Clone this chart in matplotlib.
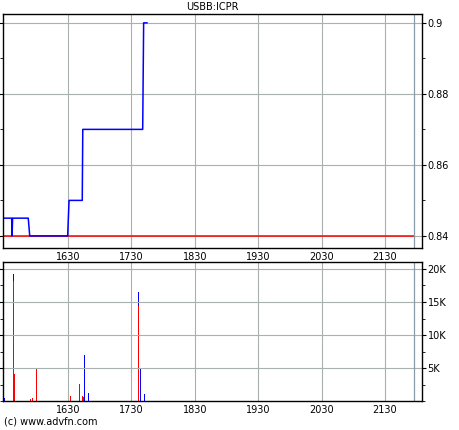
import matplotlib.pyplot as plt
from matplotlib.ticker import FixedLocator, MultipleLocator, FuncFormatter

# Intraday price / volume for USBB:ICPR (x = minutes of the day)
price_t = [928.5, 936.7, 937.1, 937.6, 952.4, 953.8, 989.7, 991.0, 1003.5, 1004.0, 1060.7, 1061.6, 1064.7]
price_v = [0.845, 0.845, 0.840, 0.845, 0.845, 0.840, 0.840, 0.850, 0.850, 0.870, 0.870, 0.900, 0.900]
prev_close = 0.84
now_t = 1317

vol_t = [929.5, 938.3, 939.2, 954.7, 956.0, 960.0, 992.2, 1000.7, 1003.5, 1004.5, 1005.4, 1009.2, 1056.5, 1058.4, 1062.2]
vol_red = [0, 18200, 4100, 300, 400, 4950, 750, 2570, 750, 600, 0, 0, 14400, 0, 0]
vol_blue = [400, 1050, 0, 0, 0, 0, 0, 0, 0, 0, 6970, 1260, 2100, 4950, 1060]

tick_pos = [990, 1050, 1110, 1170, 1230, 1290]
tick_lab = ['1630', '1730', '1830', '1930', '2030', '2130']
xmin, xmax = 928.5, 1325

fig = plt.figure(figsize=(4.6, 4.3), dpi=100)
ax1 = fig.add_axes([0.0065, 0.4233, 0.9109, 0.5442])
ax2 = fig.add_axes([0.0065, 0.0674, 0.9109, 0.3233])

grid_col = '#a8b0b0'

# price panel
ax1.plot([xmin, now_t], [prev_close, prev_close], color='red', lw=1.1)
ax1.plot(price_t, price_v, color='#0000ff', lw=1.1)
ax1.set_ylim(0.8366, 0.9025)
ax1.yaxis.set_major_locator(FixedLocator([0.84, 0.86, 0.88, 0.90]))
ax1.yaxis.set_major_formatter(FuncFormatter(lambda v, p: ('%.2f' % v).rstrip('0')))
ax1.yaxis.set_minor_locator(MultipleLocator(0.01))
ax1.set_title('USBB:ICPR', fontsize=7, pad=3)

# volume panel
ax2.bar(vol_t, vol_red, width=0.9, color='red', linewidth=0)
ax2.bar(vol_t, vol_blue, width=0.9, bottom=vol_red, color='#0000ff', linewidth=0)
ax2.set_ylim(0, 21060)
ax2.yaxis.set_major_locator(FixedLocator([5000, 10000, 15000, 20000]))
ax2.yaxis.set_major_formatter(FuncFormatter(lambda v, p: '%dK' % (v / 1000)))
ax2.yaxis.set_minor_locator(MultipleLocator(2500))

for ax in (ax1, ax2):
    ax.set_xlim(xmin, xmax)
    ax.set_xticks(tick_pos)
    ax.set_xticklabels(tick_lab)
    ax.grid(True, color=grid_col, lw=0.8)
    ax.axvline(now_t, color='#8a9aa8', lw=0.9)
    ax.tick_params(axis='y', which='both', left=True, right=True,
                   labelleft=False, labelright=True)
    ax.tick_params(axis='y', which='major', direction='out', length=3, labelsize=7, pad=1)
    ax.tick_params(axis='y', which='minor', direction='out', length=2)
    ax.tick_params(axis='x', length=0, labelsize=7, pad=3)
    for s in ax.spines.values():
        s.set_linewidth(1.0)

fig.text(0.008, 0.012, '(c) www.advfn.com', fontsize=7)
fig.savefig('out.png', dpi=100)
